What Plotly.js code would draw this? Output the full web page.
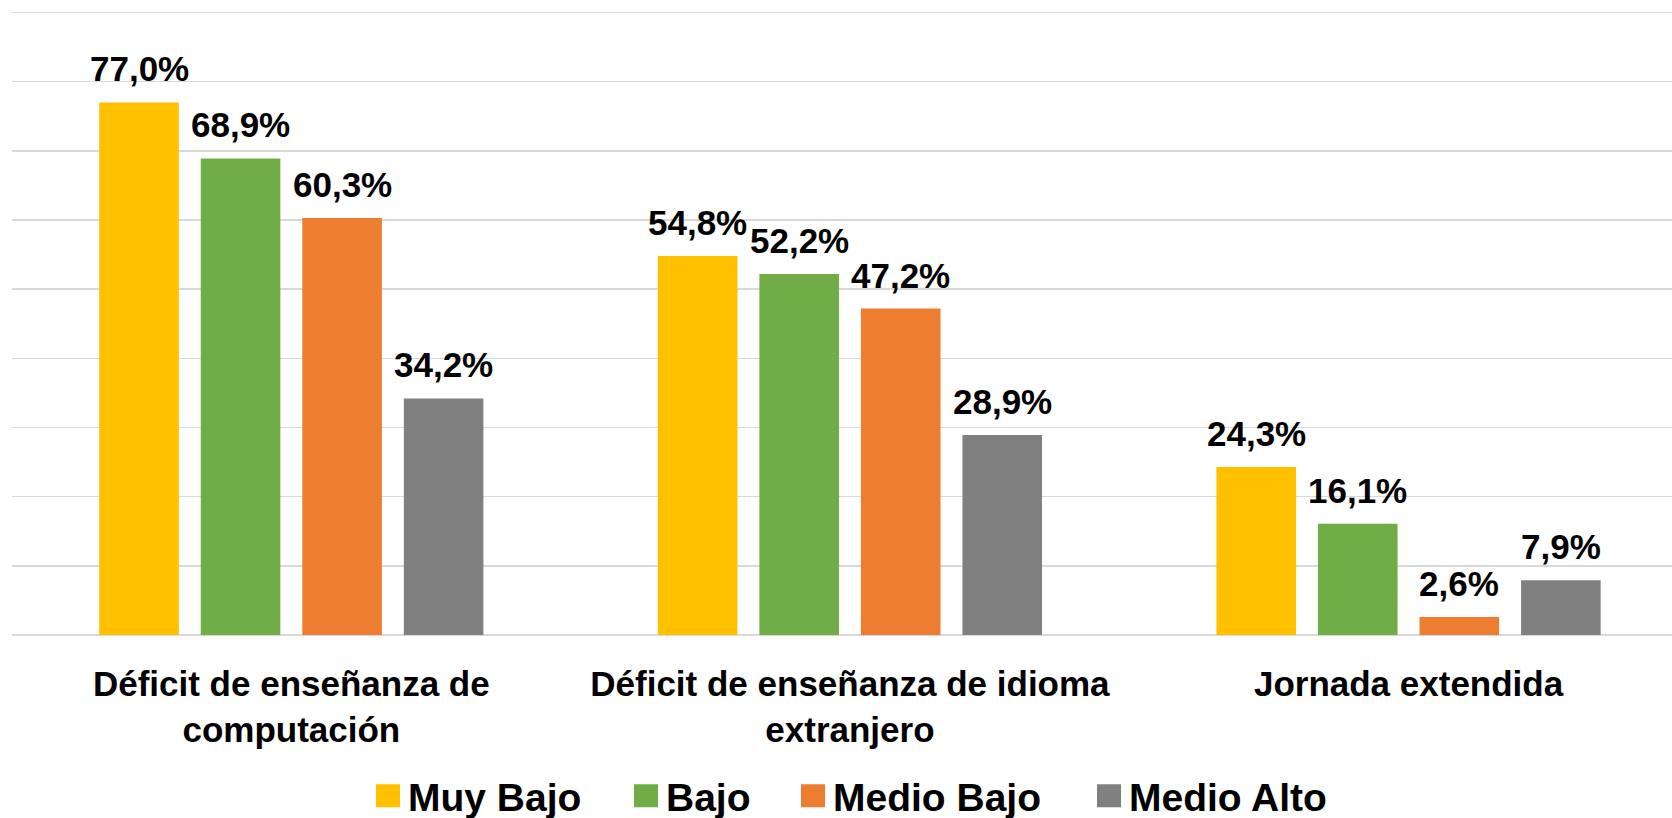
<!DOCTYPE html>
<html><head><meta charset="utf-8">
<script src="https://cdn.plot.ly/plotly-3.0.1.min.js"></script>
<style>html,body{margin:0;padding:0;background:#fff;}#chart{width:1672px;height:818px;}</style>
</head><body><div id="chart"></div>
<script>
// ---- data ----
const categories = ["Déficit de enseñanza de<br>computación", "Déficit de enseñanza de idioma<br>extranjero", "Jornada extendida"];
const seriesNames = ["Muy Bajo", "Bajo", "Medio Bajo", "Medio Alto"];
const muyBajo   = [77.0, 54.8, 24.3];
const bajo      = [68.9, 52.2, 16.1];
const medioBajo = [60.3, 47.2, 2.6];
const medioAlto = [34.2, 28.9, 7.9];
const seriesValues = [muyBajo, bajo, medioBajo, medioAlto];
const colors = ["#FFC000", "#70AD47", "#ED7D31", "#808080"];

// ---- layout constants ----
const W = 1672, H = 818;
const ML = 12, MR = 0, MT = 8.5, MB = 183;
const PW = W - ML - MR, PH = H - MT - MB;
const BARGAP = 0.273, BARGROUPGAP = 0.216;
const FONT = "Liberation Sans, Arial, sans-serif";
const legendSquareLeftPx = [376, 634, 801, 1097];
const legendNames = ["legend", "legend2", "legend3", "legend4"];

const fmt = v => v.toFixed(1).replace('.', ',') + '%';

const traces = seriesNames.map((name, s) => ({
  type: 'bar',
  name: name,
  x: categories,
  y: seriesValues[s],
  marker: {color: colors[s], line: {width: 0}},
  legend: legendNames[s],
  hoverinfo: 'skip'
}));

const slot = (1 - BARGAP) / seriesNames.length;
const annotations = [];
seriesNames.forEach((name, s) => {
  seriesValues[s].forEach((v, c) => {
    annotations.push({
      xref: 'x', yref: 'y',
      x: c + (s - (seriesNames.length - 1) / 2) * slot,
      y: v,
      text: fmt(v),
      showarrow: false,
      xanchor: 'center', yanchor: 'bottom',
      yshift: 12,
      font: {family: FONT, size: 35, weight: 'bold', color: '#000'}
    });
  });
});

const layout = {
  width: W, height: H,
  margin: {l: ML, r: MR, t: MT, b: MB, autoexpand: false},
  paper_bgcolor: '#fff', plot_bgcolor: '#fff',
  barmode: 'group', bargap: BARGAP, bargroupgap: BARGROUPGAP,
  xaxis: {
    type: 'category', range: [-0.5, 2.4716], automargin: false,
    showgrid: false, showline: false, ticks: '', zeroline: false,
    ticklabelstandoff: 25,
    tickfont: {family: FONT, size: 35, weight: 'bold', color: '#000'}
  },
  yaxis: {
    range: [0, 90.5], tick0: 0, dtick: 10, showticklabels: false, ticks: '', automargin: false,
    showgrid: true, gridcolor: '#d9d9d9', gridwidth: 1.6,
    zeroline: true, zerolinecolor: '#d9d9d9', zerolinewidth: 1.6,
    showline: false
  },
  annotations: annotations,
  showlegend: true
};
const zeroPx = H - MB;
legendNames.forEach((ln, i) => {
  layout[ln] = {
    orientation: 'h',
    x: (legendSquareLeftPx[i] - 8 - ML) / PW, xanchor: 'left',
    y: (zeroPx - 796) / PH, yanchor: 'middle',
    bgcolor: 'rgba(0,0,0,0)', borderwidth: 0,
    font: {family: FONT, size: 39, weight: 'bold', color: '#000'}
  };
});

function enlargeLegendSymbols(gd) {
  gd.querySelectorAll('.legendpoints path').forEach(p => {
    p.setAttribute('d', 'M12,11.5H-12V-11.5H12Z');
  });
}

const gd = document.getElementById('chart');
Plotly.newPlot(gd, traces, layout, {displayModeBar: false, staticPlot: true}).then(() => {
  enlargeLegendSymbols(gd);
  gd.on('plotly_afterplot', () => enlargeLegendSymbols(gd));
});
</script>
</body></html>
